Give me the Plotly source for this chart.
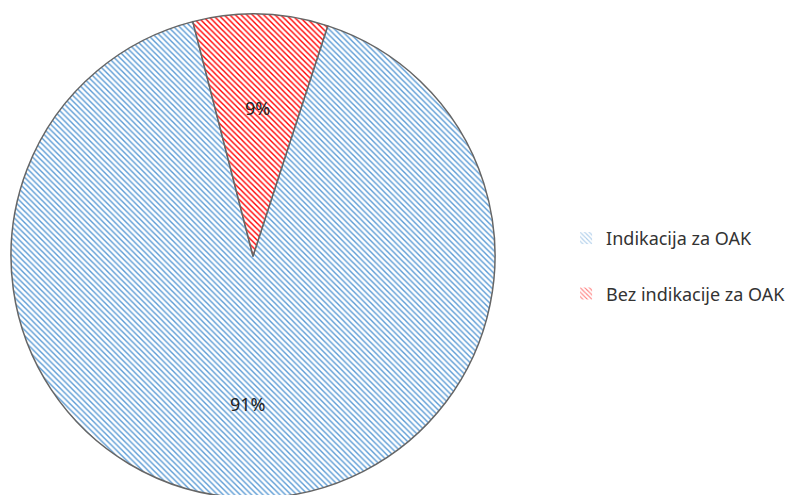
import math
import plotly.graph_objects as go

labels = ["Indikacija za OAK", "Bez indikacije za OAK"]
values = [91, 9]
colors = ["#5B9BD5", "#FF0000"]

W, H = 803, 495
top = 1
pie_left, pie_right = 3, 487
rotation = 18

pattern = lambda c: dict(shape="\\", fgcolor=c, bgcolor="white", size=4, solidity=0.35)

fig = go.Figure()
fig.add_trace(
    go.Pie(
        labels=labels,
        values=values,
        sort=False,
        direction="clockwise",
        rotation=rotation,
        textinfo="none",
        showlegend=False,
        marker=dict(
            colors=["white", "white"],
            line=dict(color="#666666", width=1.5),
            pattern=dict(
                shape=["\\", "\\"],
                fgcolor=colors,
                bgcolor="white",
                size=4,
                solidity=0.35,
            ),
        ),
        domain=dict(x=[pie_left / W, pie_right / W], y=[0, 1]),
        hoverinfo="label+percent",
    )
)

# legend entries (separate traces so the entries can be spaced apart)
for i, (lab, c) in enumerate(zip(labels, colors)):
    fig.add_trace(
        go.Bar(
            x=[None], y=[None], name=lab, legendgroup=str(i),
            marker=dict(color="white", pattern=pattern(c), line=dict(width=0)),
        )
    )

# percentage labels placed at 0.61 of the radius along each slice's mid angle
r = (pie_right - pie_left) / 2
cx = (pie_left + pie_right) / 2
cy = top + (H - top) / 2
total = sum(values)
start = rotation
annotations = []
for v in values:
    mid = math.radians(start + v / total * 180)
    px = cx + 0.61 * r * math.sin(mid)
    py = cy - 0.61 * r * math.cos(mid)
    annotations.append(dict(
        x=px / W, y=1 - (py - top) / (H - top), xref="paper", yref="paper",
        xanchor="center", yanchor="middle",
        text=f"{round(v / total * 100)}%", showarrow=False,
        font=dict(size=18, color="#222222"),
    ))
    start += v / total * 360

fig.update_layout(
    width=W,
    height=H,
    margin=dict(l=0, r=0, t=top, b=0),
    paper_bgcolor="white",
    plot_bgcolor="white",
    font=dict(family="Noto Sans, Open Sans, sans-serif", color="#333333"),
    xaxis=dict(visible=False),
    yaxis=dict(visible=False),
    annotations=annotations,
    legend=dict(
        x=0.695,
        y=0.48,
        xanchor="left",
        yanchor="middle",
        font=dict(size=18, color="#333333"),
        tracegroupgap=29,
    ),
)

fig.write_html("out.html")
